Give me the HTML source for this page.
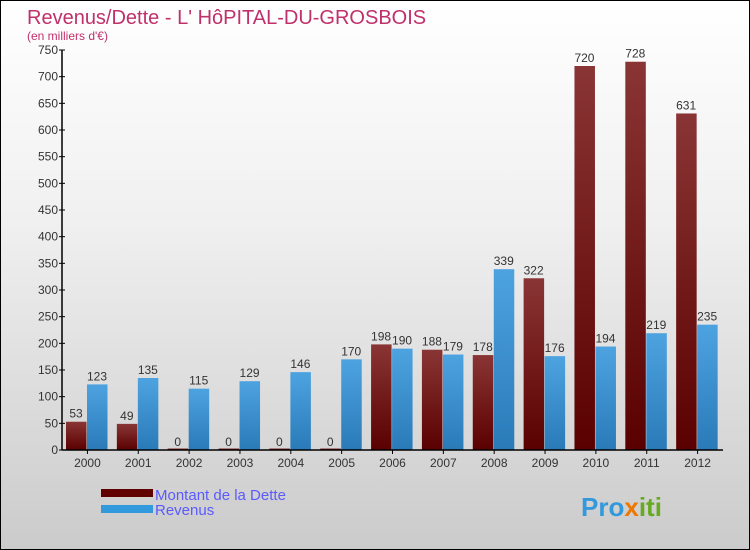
<!DOCTYPE html>
<html><head><meta charset="utf-8"><style>
body{margin:0}
#c{position:relative;width:748px;height:548px;border:1px solid #000;background:linear-gradient(#fff,#f0f0f0 40%,#cbcbcb);font-family:"Liberation Sans",sans-serif;overflow:hidden}
</style></head><body>
<div id="c">
<svg width="748" height="548">
<defs>
<linearGradient id="gd" x1="0" x2="0" y1="0" y2="1"><stop offset="0" stop-color="#8a3535"/><stop offset="1" stop-color="#5a0000"/></linearGradient>
<linearGradient id="gr" x1="0" x2="0" y1="0" y2="1"><stop offset="0" stop-color="#4da3e0"/><stop offset="1" stop-color="#2a7ab8"/></linearGradient>
</defs>
<text x="26" y="23" font-size="20" fill="#c0306a">Revenus/Dette - L' HôPITAL-DU-GROSBOIS</text>
<text x="26" y="39" font-size="12" fill="#c0306a">(en milliers d'€)</text>
<g id="plot"></g>
<rect x="100" y="488" width="52" height="8" fill="#600000"/>
<text x="154" y="499" font-size="15" fill="#5a5aff">Montant de la Dette</text>
<rect x="100" y="504" width="52" height="8" fill="#3399dd"/>
<text x="154" y="514" font-size="15" fill="#5a5aff">Revenus</text>
<text x="580" y="515" font-size="26" font-weight="bold" fill="#3399dd">Pro<tspan fill="#ee7700">x</tspan><tspan fill="#66aa22">iti</tspan></text>
</svg>
</div>
<script>
const years=["2000","2001","2002","2003","2004","2005","2006","2007","2008","2009","2010","2011","2012"];
const dette=[53,49,0,0,0,0,198,188,178,322,720,728,631];
const revenus=[123,135,115,129,146,170,190,179,339,176,194,219,235];
const ticks=[0,50,100,150,200,250,300,350,400,450,500,550,600,650,700,750];
const NS="http://www.w3.org/2000/svg";
const g=document.getElementById("plot");
const x0=61,x1=722,y0=449,yTop=49,vmax=750;
const cw=(x1-x0)/years.length;
const y=v=>y0-(v/vmax)*(y0-yTop);
function el(t,a){const e=document.createElementNS(NS,t);for(const k in a)e.setAttribute(k,a[k]);g.appendChild(e);return e;}
ticks.forEach(t=>{
 const l=el("line",{x1:x0-3,x2:x0+3,y1:y(t),y2:y(t),stroke:"#000"});
 
 
 const tx=el("text",{x:x0-4,y:y(t)+4,"font-size":12,fill:"#333","text-anchor":"end"});
 tx.textContent=t;
 
 
});
years.forEach((yr,i)=>{
 const bx=x0+i*cw;
 const hd=Math.max(y0-y(dette[i]),1.5);
 const b1=el("rect",{x:bx+4,y:y0-hd,width:20.5,height:hd,fill:"url(#gd)"});
 
 
 const b2=el("rect",{x:bx+25,y:y(revenus[i]),width:20.5,height:y0-y(revenus[i]),fill:"url(#gr)"});
 
 
 const t1=el("text",{x:bx+14,y:y(dette[i])-4,"font-size":12,fill:"#333","text-anchor":"middle"});
 t1.textContent=dette[i];
 
 
 const t2=el("text",{x:bx+35,y:y(revenus[i])-4,"font-size":12,fill:"#333","text-anchor":"middle"});
 t2.textContent=revenus[i];
 
 
 const tk=el("line",{x1:bx+cw/2,x2:bx+cw/2,y1:y0,y2:y0+4,stroke:"#000"});
 
 
 const xl=el("text",{x:bx+cw/2,y:y0+17,"font-size":12,fill:"#333","text-anchor":"middle"});
 xl.textContent=yr;
 
 
});
const ax=el("line",{x1:x0,x2:x0,y1:yTop,y2:y0,stroke:"#000","stroke-width":1.5});


const axx=el("line",{x1:x0,x2:x1,y1:y0,y2:y0,stroke:"#000","stroke-width":1.5});


</script>
</body></html>
